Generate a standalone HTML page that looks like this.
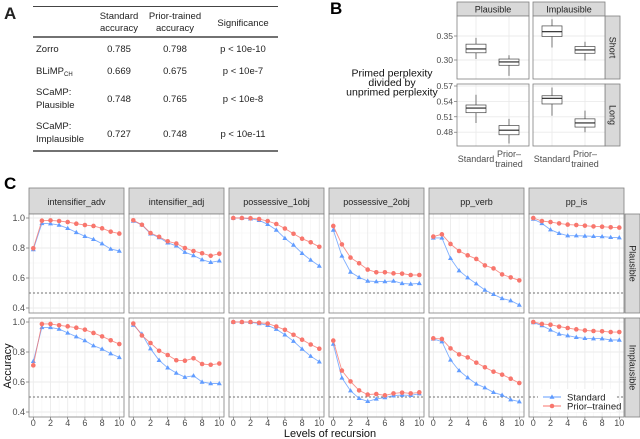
<!DOCTYPE html>
<html><head><meta charset="utf-8">
<style>
body{margin:0;background:#fff;}
svg{display:block;font-family:"Liberation Sans",sans-serif;}
</style></head>
<body>
<svg id="fig" width="640" height="439" viewBox="0 0 640 439" xmlns="http://www.w3.org/2000/svg">
<!-- Panel A table -->
<g font-size="9.5" fill="#222">
<text x="4" y="19" font-size="17" font-weight="bold">A</text>
<line x1="33" y1="6.5" x2="278" y2="6.5" stroke="#444" stroke-width="1"/>
<line x1="33" y1="37" x2="278" y2="37" stroke="#444" stroke-width="1.6"/>
<line x1="33" y1="151" x2="278" y2="151" stroke="#444" stroke-width="1.6"/>
<g text-anchor="middle">
<text x="119" y="19">Standard</text><text x="119" y="31">accuracy</text>
<text x="175" y="19">Prior-trained</text><text x="175" y="31">accuracy</text>
<text x="243" y="26">Significance</text>
</g>
<g>
<text x="36" y="52">Zorro</text>
<text x="36" y="74">BLiMP<tspan font-size="6" dy="2">CH</tspan></text>
<text x="36" y="95">SCaMP:</text><text x="36" y="108">Plausible</text>
<text x="36" y="129">SCaMP:</text><text x="36" y="142">Implausible</text>
<g text-anchor="middle">
<text x="119" y="52">0.785</text><text x="175" y="52">0.798</text><text x="243" y="52">p &lt; 10e-10</text>
<text x="119" y="74">0.669</text><text x="175" y="74">0.675</text><text x="243" y="74">p &lt; 10e-7</text>
<text x="119" y="102">0.748</text><text x="175" y="102">0.765</text><text x="243" y="102">p &lt; 10e-8</text>
<text x="119" y="137">0.727</text><text x="175" y="137">0.748</text><text x="243" y="137">p &lt; 10e-11</text>
</g></g></g>
<text x="330" y="14" font-size="17" font-weight="bold">B</text>
<text x="4" y="189" font-size="17" font-weight="bold">C</text>
<g font-size="10.5" text-anchor="middle" fill="#111">
<text x="392" y="76.5">Primed perplexity</text><text x="392" y="86">divided by</text><text x="392" y="95.5">unprimed perplexity</text>
</g>
<g id="gB"></g>
<g id="gC"></g>
</svg>
<script>
// ---------- Panel B data ----------
const bCols = ["Plausible","Implausible"];
const bRows = ["Short","Long"];
const bGroups = ["Standard","Prior-trained"];
// [lowWhisker, q1, median, q3, highWhisker]
const bShortPlausStd = [0.302,0.315,0.323,0.333,0.346];
const bShortPlausPrior = [0.267,0.289,0.296,0.302,0.310];
const bShortImplStd = [0.326,0.349,0.359,0.371,0.385];
const bShortImplPrior = [0.299,0.314,0.321,0.328,0.338];
const bLongPlausStd = [0.498,0.518,0.527,0.533,0.553];
const bLongPlausPrior = [0.458,0.475,0.484,0.493,0.506];
const bLongImplStd = [0.512,0.535,0.546,0.551,0.567];
const bLongImplPrior = [0.480,0.490,0.498,0.506,0.522];
const bShortTicks = [0.30,0.35];
const bLongTicks = [0.48,0.51,0.54,0.57];

// ---------- Panel C data ----------
const cLevels = [0,1,2,3,4,5,6,7,8,9,10];
const cTasks = ["intensifier_adv","intensifier_adj","possessive_1obj","possessive_2obj","pp_verb","pp_is"];
const cConds = ["Plausible","Implausible"];
const cYTicks = [0.4,0.6,0.8,1.0];
const cXTicks = [0,2,4,6,8,10];
const stdPlaus = [
 [0.79,0.964,0.962,0.953,0.931,0.904,0.878,0.858,0.829,0.793,0.78],
 [0.98,0.955,0.895,0.87,0.835,0.815,0.772,0.75,0.722,0.705,0.715],
 [1.0,1.0,0.995,0.985,0.958,0.92,0.865,0.82,0.765,0.72,0.68],
 [0.92,0.747,0.64,0.604,0.58,0.576,0.576,0.58,0.564,0.56,0.564],
 [0.867,0.867,0.731,0.649,0.602,0.562,0.52,0.491,0.464,0.449,0.42],
 [0.993,0.964,0.922,0.898,0.882,0.882,0.88,0.878,0.876,0.871,0.869]];
const priorPlaus = [
 [0.798,0.982,0.984,0.98,0.973,0.962,0.953,0.947,0.931,0.909,0.896],
 [0.985,0.955,0.90,0.875,0.845,0.83,0.80,0.78,0.765,0.748,0.762],
 [1.0,1.0,0.998,0.993,0.98,0.96,0.93,0.895,0.862,0.838,0.808],
 [0.947,0.824,0.736,0.698,0.656,0.638,0.638,0.631,0.629,0.62,0.62],
 [0.876,0.891,0.827,0.78,0.751,0.727,0.684,0.664,0.624,0.604,0.584],
 [1.0,0.98,0.973,0.964,0.956,0.953,0.949,0.944,0.942,0.938,0.936]];
const stdImpl = [
 [0.738,0.964,0.964,0.953,0.927,0.902,0.876,0.842,0.82,0.789,0.764],
 [0.98,0.92,0.822,0.745,0.695,0.66,0.632,0.642,0.60,0.59,0.59],
 [1.0,1.0,0.998,0.99,0.978,0.952,0.915,0.872,0.82,0.772,0.735],
 [0.853,0.627,0.542,0.491,0.471,0.487,0.496,0.509,0.513,0.511,0.522],
 [0.887,0.869,0.747,0.676,0.629,0.587,0.562,0.531,0.513,0.482,0.469],
 [0.996,0.976,0.947,0.92,0.909,0.898,0.891,0.889,0.889,0.88,0.88]];
const priorImpl = [
 [0.711,0.987,0.987,0.978,0.971,0.962,0.949,0.927,0.904,0.878,0.853],
 [0.99,0.91,0.86,0.808,0.78,0.745,0.742,0.758,0.72,0.715,0.723],
 [1.0,1.0,1.0,0.995,0.99,0.97,0.948,0.915,0.882,0.85,0.822],
 [0.876,0.676,0.604,0.544,0.516,0.52,0.511,0.524,0.529,0.524,0.531],
 [0.891,0.887,0.824,0.784,0.764,0.729,0.698,0.669,0.649,0.622,0.593],
 [1.0,0.987,0.982,0.969,0.96,0.951,0.944,0.94,0.938,0.933,0.933]];
const chanceLevel = 0.5;

const NS="http://www.w3.org/2000/svg";
function mk(parent,tag,attrs,text){const e=document.createElementNS(NS,tag);for(const k in attrs)e.setAttribute(k,attrs[k]);if(text!==undefined)e.textContent=text;parent.appendChild(e);return e;}
const RED="#F8766D", BLUE="#619CFF", GRID="#EBEBEB", BORDER="#7f7f7f", STRIP="#D9D9D9";

// ---------- Panel B ----------
(function(){
 const g=document.getElementById('gB');
 const colX=[457,533], pw=72;
 const rowY=[[16,79],[84,146]];
 const yS=[v=>36+(0.35-v)/0.05*24, v=>86+(0.57-v)/0.03*15.4];
 const data=[[[bShortPlausStd,bShortPlausPrior],[bShortImplStd,bShortImplPrior]],
             [[bLongPlausStd,bLongPlausPrior],[bLongImplStd,bLongImplPrior]]];
 const ticks=[bShortTicks,bLongTicks];
 const xOff=[19,52];
 for(let c=0;c<2;c++){
  const s=mk(g,'rect',{x:colX[c],y:2,width:pw,height:14,fill:STRIP,stroke:BORDER,'stroke-width':0.8});
  
  
  mk(g,'text',{x:colX[c]+pw/2,y:12.5,'font-size':9,'text-anchor':'middle',fill:'#222'},bCols[c]);
 }
 for(let r=0;r<2;r++){
  const [y0,y1]=rowY[r];
  const rs=mk(g,'rect',{x:605,y:y0,width:15,height:y1-y0,fill:STRIP,stroke:BORDER,'stroke-width':0.8});
  
  
  mk(g,'text',{x:612.5,y:(y0+y1)/2,'font-size':9,'text-anchor':'middle','dominant-baseline':'central',transform:`rotate(90 612.5 ${(y0+y1)/2})`,fill:'#222'},bRows[r]);
  ticks[r].forEach(t=>{
   const y=yS[r](t);
   mk(g,'text',{x:453,y:y+3,'font-size':8.5,'text-anchor':'end',fill:'#4d4d4d'},t.toFixed(2));
   mk(g,'line',{x1:454,x2:457,y1:y,y2:y,stroke:'#555','stroke-width':0.6});
  });
  for(let c=0;c<2;c++){
   const x0=colX[c];
   mk(g,'rect',{x:x0,y:y0,width:pw,height:y1-y0,fill:'#fff'});
   for(let i=0;i<ticks[r].length;i++){const y=yS[r](ticks[r][i]);mk(g,'line',{x1:x0,x2:x0+pw,y1:y,y2:y,stroke:GRID,'stroke-width':0.9});}
   xOff.forEach(o=>mk(g,'line',{x1:x0+o,x2:x0+o,y1:y0,y2:y1,stroke:GRID,'stroke-width':0.9}));
   for(let k=0;k<2;k++){
    const d=data[r][c][k], cx=x0+xOff[k];
    const bg=mk(g,'g',{});
    
    
    mk(bg,'line',{x1:cx,x2:cx,y1:yS[r](d[0]),y2:yS[r](d[4]),stroke:'#444','stroke-width':0.7});
    mk(bg,'rect',{x:cx-10,y:yS[r](d[3]),width:20,height:yS[r](d[1])-yS[r](d[3]),fill:'#fff',stroke:'#444','stroke-width':0.7});
    mk(bg,'line',{x1:cx-10,x2:cx+10,y1:yS[r](d[2]),y2:yS[r](d[2]),stroke:'#222','stroke-width':1.1});
   }
   mk(g,'rect',{x:x0,y:y0,width:pw,height:y1-y0,fill:'none',stroke:BORDER,'stroke-width':0.8});
  }
 }
 for(let c=0;c<2;c++){
  const x0=colX[c];
  mk(g,'text',{x:x0+xOff[0],y:162,'font-size':9,'text-anchor':'middle',fill:'#4d4d4d'},'Standard');
  mk(g,'text',{x:x0+xOff[1],y:157,'font-size':9,'text-anchor':'middle',fill:'#4d4d4d'},'Prior\u2013');
  mk(g,'text',{x:x0+xOff[1],y:167,'font-size':9,'text-anchor':'middle',fill:'#4d4d4d'},'trained');
 }
})();

// ---------- Panel C ----------
(function(){
 const g=document.getElementById('gC');
 const pw=95, rowY=[[214,313],[318,417]];
 const xS=(i,v)=>29+100*i+4.3+v*8.6;
 const yS=(r,v)=>(r?322:218)+(1-v)*150;
 const series=[[stdPlaus,priorPlaus],[stdImpl,priorImpl]];
 for(let i=0;i<cTasks.length;i++){
  const x0=29+100*i;
  const s=mk(g,'rect',{x:x0,y:188,width:pw,height:26,fill:STRIP,stroke:BORDER,'stroke-width':0.8});
  
  
  mk(g,'text',{x:x0+pw/2,y:205,'font-size':9,'text-anchor':'middle',fill:'#222'},cTasks[i]);
  cXTicks.forEach(t=>{
   mk(g,'text',{x:xS(i,t),y:426,'font-size':9,'text-anchor':'middle',fill:'#4d4d4d'},String(t));
   mk(g,'line',{x1:xS(i,t),x2:xS(i,t),y1:417,y2:419.5,stroke:'#555','stroke-width':0.6});
  });
 }
 for(let r=0;r<2;r++){
  const [y0,y1]=rowY[r];
  const rs=mk(g,'rect',{x:625,y:y0,width:15,height:y1-y0,fill:STRIP,stroke:BORDER,'stroke-width':0.8});
  
  
  mk(g,'text',{x:632.5,y:(y0+y1)/2,'font-size':9,'text-anchor':'middle','dominant-baseline':'central',transform:`rotate(90 632.5 ${(y0+y1)/2})`,fill:'#222'},cConds[r]);
  cYTicks.forEach(t=>{
   mk(g,'text',{x:25,y:yS(r,t)+3,'font-size':9,'text-anchor':'end',fill:'#4d4d4d'},t.toFixed(1));
   mk(g,'line',{x1:26,x2:29,y1:yS(r,t),y2:yS(r,t),stroke:'#555','stroke-width':0.6});
  });
  for(let i=0;i<cTasks.length;i++){
   const x0=29+100*i;
   const pg=mk(g,'g',{});
   
   
   mk(pg,'rect',{x:x0,y:y0,width:pw,height:y1-y0,fill:'#fff'});
   for(let v=0.5;v<1.05;v+=0.2) mk(pg,'line',{x1:x0,x2:x0+pw,y1:yS(r,v),y2:yS(r,v),stroke:'#F4F4F4','stroke-width':0.6});
   for(let v=1;v<10;v+=2) mk(pg,'line',{x1:xS(i,v),x2:xS(i,v),y1:y0,y2:y1,stroke:'#F4F4F4','stroke-width':0.6});
   cYTicks.forEach(t=>mk(pg,'line',{x1:x0,x2:x0+pw,y1:yS(r,t),y2:yS(r,t),stroke:GRID,'stroke-width':0.9}));
   cXTicks.forEach(t=>mk(pg,'line',{x1:xS(i,t),x2:xS(i,t),y1:y0,y2:y1,stroke:GRID,'stroke-width':0.9}));
   const ch=mk(pg,'line',{x1:x0,x2:x0+pw,y1:yS(r,chanceLevel),y2:yS(r,chanceLevel),stroke:'#444','stroke-width':0.7,'stroke-dasharray':'2,2'});
   
   
   for(let k=0;k<2;k++){
    const vals=series[r][k][i], col=k?RED:BLUE;
    const pts=cLevels.map((l,j)=>xS(i,l).toFixed(1)+','+yS(r,vals[j]).toFixed(1)).join(' ');
    const ln=mk(pg,'polyline',{points:pts,fill:'none',stroke:col,'stroke-width':0.9,'stroke-opacity':0.8});
    
    
    cLevels.forEach((l,j)=>{
     const x=xS(i,l), y=yS(r,vals[j]);
     let m;
     if(k) m=mk(pg,'circle',{cx:x,cy:y,r:2.3,fill:col});
     else m=mk(pg,'path',{d:`M${x},${y-2.6}L${x+2.5},${y+1.7}L${x-2.5},${y+1.7}Z`,fill:col});
     
     
    });
   }
   mk(pg,'rect',{x:x0,y:y0,width:pw,height:y1-y0,fill:'none',stroke:BORDER,'stroke-width':0.8});
  }
 }
 const lg=mk(g,'g',{});
 
 
 mk(lg,'rect',{x:538,y:389,width:78,height:23,fill:'#fff'});
 mk(lg,'line',{x1:543,x2:561,y1:397,y2:397,stroke:BLUE,'stroke-width':0.9});
 mk(lg,'path',{d:'M552,394.4L554.5,398.7L549.5,398.7Z',fill:BLUE});
 mk(lg,'text',{x:567,y:400.5,'font-size':9.5,fill:'#222'},'Standard');
 mk(lg,'line',{x1:543,x2:561,y1:406,y2:406,stroke:RED,'stroke-width':0.9});
 mk(lg,'circle',{cx:552,cy:406,r:2.3,fill:RED});
 mk(lg,'text',{x:567,y:409.5,'font-size':9.5,fill:'#222'},'Prior\u2013trained');
 mk(g,'text',{x:330,y:437,'font-size':11,'text-anchor':'middle',fill:'#111'},'Levels of recursion');
 mk(g,'text',{x:11,y:366,'font-size':11,'text-anchor':'middle',transform:'rotate(-90 11 366)',fill:'#111'},'Accuracy');
})();
</script>
</body></html>
